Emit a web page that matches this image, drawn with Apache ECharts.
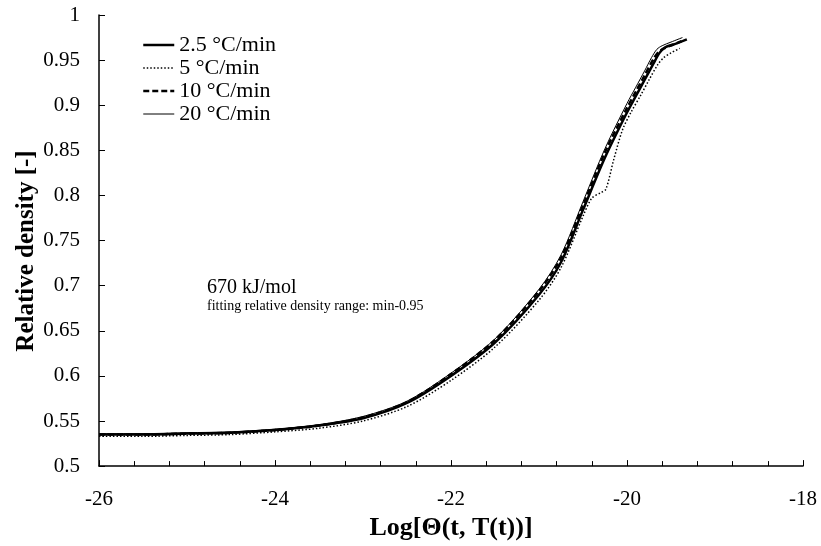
<!DOCTYPE html>
<html>
<head>
<meta charset="utf-8">
<script src="https://cdn.jsdelivr.net/npm/echarts@6/dist/echarts.min.js"></script>
<style>html,body{margin:0;padding:0;background:#fff}#c{width:821px;height:546px}</style>
</head>
<body>
<div id="c"></div>
<script>
const seriesNames = ['2.5 °C/min', '5 °C/min', '10 °C/min', '20 °C/min'];

const x25 = [-26, -25.5, -25, -24.5, -24, -23.5, -23, -22.5, -22, -21.5, -21, -20.75, -20.5, -20.25, -20, -19.9, -19.8, -19.7, -19.63, -19.57, -19.45, -19.32];
const y25 = [0.535, 0.535, 0.536, 0.537, 0.540, 0.545, 0.553, 0.570, 0.600, 0.637, 0.690, 0.726, 0.784, 0.842, 0.892, 0.910, 0.928, 0.946, 0.958, 0.964, 0.968, 0.973];

const x5 = [-26, -25.5, -25, -24.5, -24, -23.5, -23, -22.5, -22, -21.5, -21, -20.75, -20.5, -20.4, -20.3, -20.24, -20.15, -20.05, -19.95, -19.85, -19.75, -19.65, -19.58, -19.5, -19.4];
const y5 = [0.533, 0.533, 0.534, 0.535, 0.538, 0.542, 0.550, 0.566, 0.595, 0.632, 0.684, 0.720, 0.777, 0.797, 0.803, 0.807, 0.840, 0.873, 0.893, 0.910, 0.928, 0.945, 0.953, 0.958, 0.963];

const x10 = [-26, -25.5, -25, -24.5, -24, -23.5, -23, -22.5, -22, -21.5, -21, -20.75, -20.5, -20.25, -20, -19.9, -19.8, -19.7, -19.65, -19.58, -19.48, -19.38];
const y10 = [0.535, 0.535, 0.536, 0.537, 0.540, 0.545, 0.554, 0.571, 0.602, 0.640, 0.694, 0.731, 0.789, 0.848, 0.897, 0.915, 0.933, 0.951, 0.958, 0.963, 0.967, 0.971];

const x20 = [-26, -25.5, -25, -24.5, -24, -23.5, -23, -22.5, -22, -21.5, -21, -20.75, -20.5, -20.25, -20, -19.9, -19.8, -19.72, -19.66, -19.6, -19.5, -19.37];
const y20 = [0.536, 0.536, 0.537, 0.538, 0.541, 0.546, 0.555, 0.572, 0.603, 0.641, 0.696, 0.734, 0.793, 0.852, 0.902, 0.920, 0.938, 0.953, 0.962, 0.966, 0.970, 0.975];

const xTicks = { min: -26, max: -18, interval: 2 };
const yTicks = { min: 0.5, max: 1, interval: 0.05 };

function pairs(xs, ys) { return xs.map((x, i) => [x, ys[i]]); }

const font = 'Liberation Serif';
const chart = echarts.init(document.getElementById('c'), null, { renderer: 'canvas' });

const styles = [
  { width: 2.5, type: 'solid' },
  { width: 1.5, type: [1.5, 2] },
  { width: 2.5, type: [6, 3] },
  { width: 1, type: 'solid' }
];
const datasets = [pairs(x25, y25), pairs(x5, y5), pairs(x10, y10), pairs(x20, y20)];

chart.setOption({
  animation: false,
  backgroundColor: '#fff',
  grid: { left: 99, right: 18, top: 15, bottom: 79 },
  legend: {
    orient: 'vertical',
    left: 142,
    top: 34,
    padding: 0,
    itemWidth: 31,
    itemHeight: 14,
    itemGap: 1,
    itemStyle: { opacity: 0 },
    lineStyle: { width: 'inherit' },
    textStyle: { fontFamily: font, fontSize: 22, color: '#000', lineHeight: 22 },
    data: seriesNames
  },
  xAxis: {
    type: 'value',
    min: xTicks.min, max: xTicks.max, interval: xTicks.interval,
    name: 'Log[Θ(t, T(t))]',
    nameLocation: 'middle',
    nameGap: 48,
    nameTextStyle: { fontFamily: font, fontSize: 26, fontWeight: 'bold', color: '#000' },
    axisLine: { onZero: false, lineStyle: { color: '#000', width: 1.5 } },
    axisTick: { inside: true, length: 6, lineStyle: { color: '#000' } },
    minorTick: { show: true, splitNumber: 5, length: 5, lineStyle: { color: '#000' } },
    axisLabel: { fontFamily: font, fontSize: 21, color: '#000', margin: 23 },
    splitLine: { show: false }
  },
  yAxis: {
    type: 'value',
    min: yTicks.min, max: yTicks.max, interval: yTicks.interval,
    axisLine: { show: true, onZero: false, lineStyle: { color: '#000', width: 1.5 } },
    axisTick: { show: true, inside: true, length: 6, lineStyle: { color: '#000' } },
    axisLabel: { fontFamily: font, fontSize: 21, color: '#000', margin: 19 },
    splitLine: { show: false }
  },
  graphic: [
    { type: 'text', x: 27, y: 251, rotation: Math.PI / 2,
      style: { text: 'Relative density [-]', font: 'bold 25px "Liberation Serif"', fill: '#000', align: 'center', verticalAlign: 'middle' } },
    { type: 'text', left: 207, top: 278, style: { text: '670 kJ/mol', font: '20px "Liberation Serif"', fill: '#000' } },
    { type: 'text', left: 207, top: 299, style: { text: 'fitting relative density range: min-0.95', font: '14px "Liberation Serif"', fill: '#000' } }
  ],
  series: seriesNames.map((n, i) => ({
    name: n,
    type: 'line',
    data: datasets[i],
    smooth: 0.3,
    showSymbol: false,
    symbol: 'none',
    lineStyle: { color: '#000', width: styles[i].width, type: styles[i].type },
    itemStyle: { color: '#000' },
    z: 4 - i
  }))
});
</script>
</body>
</html>
